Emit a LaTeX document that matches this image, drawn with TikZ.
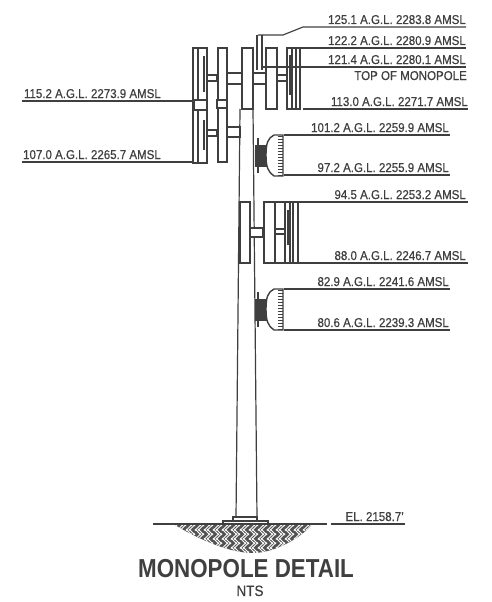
\documentclass[tikz,border=0pt]{standalone}
\usepackage{fontspec}
\setmainfont[FakeStretch=0.9,FakeBold=0.6]{Liberation Sans}
\newfontfamily\titlefont[FakeStretch=0.86]{Liberation Sans Bold}
\usepackage{xcolor}
\definecolor{inkgray}{HTML}{3F3F3F}
\begin{document}
\begin{tikzpicture}[x=1pt,y=-1pt,
  lbl/.style={font=\fontsize{12.8}{13}\selectfont,text=inkgray,inner sep=0pt,anchor=base east},
  panel/.style={draw=inkgray,line width=2pt,fill=white},
  thin panel/.style={draw=inkgray,line width=1.2pt,fill=white},
  lead/.style={draw=inkgray,line width=1.2pt},
  bracket/.style={draw=inkgray,line width=1.2pt,fill=white},
  clamp/.style={inkgray,line width=2.5pt}]
\useasboundingbox (0,0) rectangle (491,602);
% pole
\draw[inkgray,line width=1.2pt] (240,109) -- (236,518);
\draw[inkgray,line width=1.2pt] (253,109) -- (257,518);
% base plate
\draw[inkgray,line width=1.2pt,fill=white] (233,517) rectangle (257,521);
\draw[inkgray,line width=1.2pt,fill=white] (223,521) rectangle (268,524);
% soil
\begin{scope}
\clip (175,525) .. controls (200,540) and (230,553) .. (253,553) .. controls (275,553) and (300,538) .. (312,525) -- cycle;
\fill[inkgray!90] (170,520) rectangle (320,556);
\foreach \i in {0,...,17}
  \foreach \j in {0,...,4}
  {
    \draw[white,line width=0.9pt] (168+\i*9,520+\j*9) -- ++(6,6);
    \draw[white,line width=0.9pt] (171+\i*9,520+\j*9) -- ++(6,6);
    \draw[white,line width=0.9pt] (174+\i*9,524.5+\j*9) -- ++(-6,6);
    \draw[white,line width=0.9pt] (177+\i*9,524.5+\j*9) -- ++(-6,6);
  }
\end{scope}
\draw[lead] (153,524) -- (327,524);
% top sector
\draw[lead] (257,35) -- (257,70);
\draw[lead] (262,35) -- (262,70);
\draw[bracket] (207,75) rectangle (217,81);
\draw[bracket] (227,73) rectangle (242,84);
\draw[bracket] (253,73) rectangle (266,84);
\draw[bracket] (277,75) rectangle (287,81);
\draw[bracket] (207,130) rectangle (217,136);
\draw[bracket] (227,127) rectangle (240,137);
\draw[thin panel] (193,48) rectangle (198,163);
\draw[thin panel] (198,48) rectangle (207,163);
\draw[panel] (217.5,48) rectangle (227,162);
\draw[panel] (242,48) rectangle (253,109);
\draw[panel] (266,48) rectangle (277,109);
\draw[thin panel] (287,48) rectangle (292,109);
\draw[thin panel] (292,48) rectangle (296,109);
\draw[thin panel] (296,48) rectangle (300,109);
\draw[bracket] (194,100) rectangle (207,110);
\draw[bracket] (217,100) rectangle (227,108);
\draw[clamp] (204,56) -- (204,92);
\draw[clamp] (204,120) -- (204,150);
\draw[clamp] (290,55) -- (290,95);
% middle sector
\draw[bracket] (250,228) rectangle (263,237);
\draw[bracket] (275,229) rectangle (285,234);
\draw[panel] (239.5,202) rectangle (250,263);
\draw[panel] (263.5,202) rectangle (275,263);
\draw[thin panel] (285,202) rectangle (290,263);
\draw[thin panel] (290,202) rectangle (293,263);
\draw[thin panel] (293,202) rectangle (298,263);
\draw[clamp] (288,210) -- (288,245);
% dishes
\foreach \d in {135,289}
{
  \draw[inkgray,line width=2.5pt] (258,\d+3) -- (258,\d+38);
  \fill[inkgray] (255,\d+10) rectangle (268,\d+32);
  \draw[inkgray,line width=1.4pt,fill=white] (283,\d) -- (274,\d) .. controls (268,\d+3) and (266,\d+8) .. (266,\d+20) .. controls (266,\d+32) and (268,\d+37) .. (274,\d+41) -- (283,\d+41) -- cycle;
  \foreach \t in {0,...,13}
    \draw[inkgray,line width=0.8pt] (278,\d+1+\t*3) -- (283,\d+1+\t*3);
}
% leaders
\draw[lead] (258,35) -- (283,35) -- (303,27) -- (466,27);
\draw[lead] (300,48) -- (466,48);
\draw[lead] (262,67) -- (466,67);
\draw[lead] (303,109) -- (468,109);
\draw[lead] (284,135) -- (450,135);
\draw[lead] (284,175) -- (450,175);
\draw[lead] (272,202) -- (468,202);
\draw[lead] (272,263) -- (468,263);
\draw[lead] (284,289) -- (450,289);
\draw[lead] (284,330) -- (450,330);
\draw[lead] (22,101) -- (193,101);
\draw[lead] (22,162) -- (193,162);
\draw[lead] (331,524) -- (405,524);
% labels
\node[lbl] (elevA) at (466,24) {125.1 A.G.L. 2283.8 AMSL};
\node[lbl] (elevB) at (466,45) {122.2 A.G.L. 2280.9 AMSL};
\node[lbl] (elevC) at (466,64) {121.4 A.G.L. 2280.1 AMSL};
\node[lbl] (topmono) at (467,80) {TOP OF MONOPOLE};
\node[lbl] (elevD) at (468,106) {113.0 A.G.L. 2271.7 AMSL};
\node[lbl] (elevE) at (449,132) {101.2 A.G.L. 2259.9 AMSL};
\node[lbl] (elevF) at (449,172) {97.2 A.G.L. 2255.9 AMSL};
\node[lbl] (elevG) at (466,199) {94.5 A.G.L. 2253.2 AMSL};
\node[lbl] (elevH) at (466,260) {88.0 A.G.L. 2246.7 AMSL};
\node[lbl] (elevI) at (449,286) {82.9 A.G.L. 2241.6 AMSL};
\node[lbl] (elevJ) at (449,327) {80.6 A.G.L. 2239.3 AMSL};
\node[lbl] (elevK) at (161,98) {115.2 A.G.L. 2273.9 AMSL};
\node[lbl] (elevL) at (161,159) {107.0 A.G.L. 2265.7 AMSL};
\node[lbl] (ground) at (404,521) {EL. 2158.7'};
\node[inkgray,inner sep=0pt,anchor=base,font=\titlefont\fontsize{26}{27}\selectfont] (title) at (246,577) {MONOPOLE DETAIL};
\node[inkgray,inner sep=0pt,anchor=base,font=\fontsize{15}{16}\selectfont] (nts) at (250,596) {NTS};
\end{tikzpicture}
\end{document}
